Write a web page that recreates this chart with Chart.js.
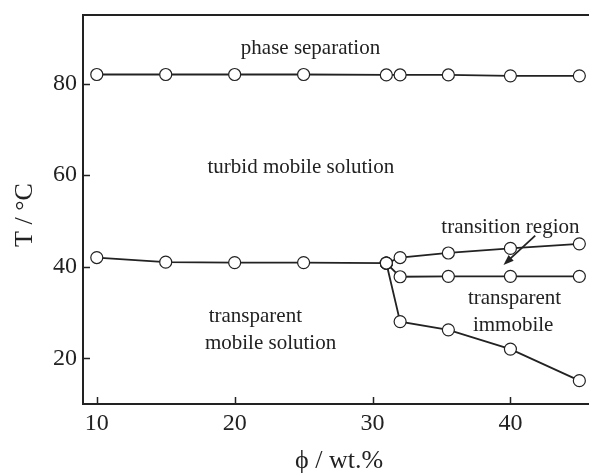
<!DOCTYPE html>
<html>
<head>
<meta charset="utf-8">
<script src="https://cdn.jsdelivr.net/npm/chart.js@4"></script>
<style>
    html, body { margin: 0; padding: 0; background: #fff; }
    #wrap { width: 589px; height: 473px; }
</style>
</head>
<body>
<div id="wrap"><canvas id="chart" width="589" height="473"></canvas></div>
<script>
const xTicks = [10, 20, 30, 40]
const yTicks = [20, 40, 60, 80]

const phiAll = [10, 15, 20, 25, 31, 32, 35.5, 40, 45]
const tPhaseSep = [82, 82, 82, 82, 81.9, 81.9, 81.9, 81.7, 81.7]

const phiMobile = [10, 15, 20, 25, 31]
const tMobile = [42, 41, 40.9, 40.9, 40.8]

const phiBranch = [31, 32, 35.5, 40, 45]
const tTransUpper = [40.8, 42, 43, 44, 45]
const tTransLower = [40.8, 37.8, 37.9, 37.9, 37.9]
const tImmobile = [40.8, 28, 26.2, 22, 15.1]

// region labels, placed in data units
const regionLabels = [
    { text: 'phase separation', x: 25.5, y: 87.7 },
    { text: 'turbid mobile solution', x: 24.8, y: 61.6 },
    { text: 'transparent', x: 21.5, y: 29.1 },
    { text: 'mobile solution', x: 22.6, y: 23.2 },
    { text: 'transition region', x: 40.0, y: 48.5 },
    { text: 'transparent', x: 40.3, y: 33.0 },
    { text: 'immobile', x: 40.2, y: 27.1 },
]
const arrowFrom = { x: 41.8, y: 46.8 }
const arrowTo = { x: 39.5, y: 40.4 }

const ink = '#222'
const serif = "'Liberation Serif', 'Times New Roman', serif"

const toPoints = (xs, ys) => xs.map((x, i) => ({ x, y: ys[i] }))

const series = [
    toPoints(phiAll, tPhaseSep),
    toPoints(phiMobile, tMobile),
    toPoints(phiBranch, tTransUpper),
    toPoints(phiBranch, tTransLower),
    toPoints(phiBranch, tImmobile),
]

const decorations = {
    id: 'decorations',
    afterDraw(chart) {
        const { ctx, chartArea: a, scales: { x, y } } = chart
        ctx.save()
        ctx.strokeStyle = ink
        ctx.fillStyle = ink

        // top frame line
        ctx.lineWidth = 2
        ctx.beginPath()
        ctx.moveTo(a.left, a.top)
        ctx.lineTo(a.right, a.top)
        ctx.stroke()

        // inward ticks
        ctx.lineWidth = 1.5
        ctx.beginPath()
        xTicks.forEach(v => {
            const px = Math.round(x.getPixelForValue(v)) + 0.5
            ctx.moveTo(px, a.bottom)
            ctx.lineTo(px, a.bottom - 7)
        })
        yTicks.forEach(v => {
            const py = Math.round(y.getPixelForValue(v)) + 0.5
            ctx.moveTo(a.left, py)
            ctx.lineTo(a.left + 7, py)
        })
        ctx.stroke()

        // region labels
        ctx.font = `21px ${serif}`
        ctx.textAlign = 'center'
        ctx.textBaseline = 'middle'
        regionLabels.forEach(l => {
            ctx.fillText(l.text, x.getPixelForValue(l.x), y.getPixelForValue(l.y))
        })

        // arrow into the transition region
        const x0 = x.getPixelForValue(arrowFrom.x)
        const y0 = y.getPixelForValue(arrowFrom.y)
        const x1 = x.getPixelForValue(arrowTo.x)
        const y1 = y.getPixelForValue(arrowTo.y)
        const ang = Math.atan2(y1 - y0, x1 - x0)
        const head = 11
        ctx.lineWidth = 1.8
        ctx.beginPath()
        ctx.moveTo(x0, y0)
        ctx.lineTo(x1 - Math.cos(ang) * head * 0.8, y1 - Math.sin(ang) * head * 0.8)
        ctx.stroke()
        ctx.beginPath()
        ctx.moveTo(x1, y1)
        ctx.lineTo(x1 - head * Math.cos(ang - 0.35), y1 - head * Math.sin(ang - 0.35))
        ctx.lineTo(x1 - head * Math.cos(ang + 0.35), y1 - head * Math.sin(ang + 0.35))
        ctx.closePath()
        ctx.fill()

        // axis titles
        ctx.font = `26px ${serif}`
        ctx.fillText('\u03D5 / wt.%', 339, 461)
        ctx.save()
        ctx.translate(25, 215)
        ctx.rotate(-Math.PI / 2)
        ctx.fillText('T / \u00B0C', 0, 0)
        ctx.restore()

        ctx.restore()
    },
}

const noEdgePadding = s => {
    s.paddingLeft = 0
    s.paddingRight = 0
    s.paddingTop = 0
    s.paddingBottom = 0
}

new Chart(document.getElementById('chart'), {
    type: 'scatter',
    data: {
        datasets: series.map(data => ({
            data,
            showLine: true,
            borderColor: ink,
            borderWidth: 1.8,
            pointRadius: 6,
            pointHoverRadius: 6,
            pointBorderWidth: 1.2,
            pointBorderColor: ink,
            pointBackgroundColor: '#fff',
            tension: 0,
            clip: false,
        })),
    },
    options: {
        responsive: false,
        animation: false,
        events: [],
        layout: { autoPadding: false, padding: { top: 15, right: 0, left: 0, bottom: 0 } },
        plugins: {
            legend: { display: false },
            tooltip: { enabled: false },
        },
        scales: {
            x: {
                type: 'linear',
                min: 9,
                max: 45.7,
                afterBuildTicks: s => { s.ticks = xTicks.map(value => ({ value })) },
                afterFit: s => { s.height = 69; noEdgePadding(s) },
                grid: { display: false, drawTicks: false },
                border: { display: true, color: ink, width: 2 },
                ticks: {
                    color: ink,
                    padding: 5,
                    font: { family: serif, size: 24 },
                },
            },
            y: {
                type: 'linear',
                min: 10,
                max: 95,
                afterBuildTicks: s => { s.ticks = yTicks.map(value => ({ value })) },
                afterFit: s => { s.width = 83; noEdgePadding(s) },
                grid: { display: false, drawTicks: false },
                border: { display: true, color: ink, width: 2 },
                ticks: {
                    color: ink,
                    padding: 6,
                    font: { family: serif, size: 24 },
                },
            },
        },
    },
    plugins: [decorations],
})
</script>
</body>
</html>
